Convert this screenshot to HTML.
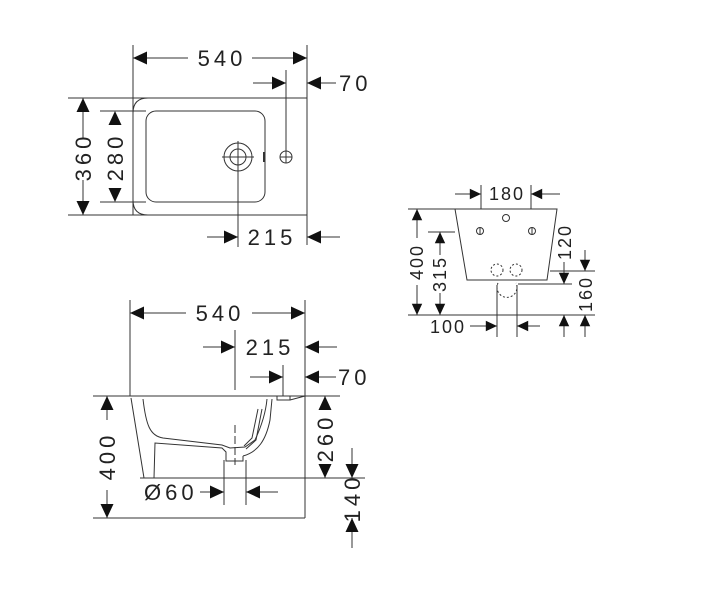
<!DOCTYPE html>
<html><head><meta charset="utf-8"><style>
html,body{margin:0;padding:0;background:#fff;}
svg{display:block;}
text{font-family:"Liberation Sans",sans-serif;fill:#222;}
</style></head><body>
<svg id="s" width="715" height="600" viewBox="0 0 715 600" xmlns="http://www.w3.org/2000/svg">
<g stroke="#333" stroke-width="1" fill="none">
<line x1="133" y1="45" x2="133" y2="215"/>
<line x1="307" y1="45" x2="307" y2="245"/>
<line x1="68" y1="98" x2="307" y2="98"/>
<line x1="68" y1="215" x2="307" y2="215"/>
<path d="M148,98 H307 V215 H148 Q133,215 133,200 V113 Q133,98 148,98Z"/>
<rect x="146" y="111" width="119" height="91" rx="10"/>
<line x1="100" y1="111" x2="146" y2="111"/>
<line x1="100" y1="202" x2="146" y2="202"/>
<circle cx="238" cy="157" r="14"/><circle cx="238" cy="157" r="8"/>
<line x1="222" y1="157" x2="254" y2="157"/><line x1="238" y1="141" x2="238" y2="247"/>
<circle cx="286" cy="157" r="6"/><line x1="280" y1="157" x2="292" y2="157"/>
<line x1="286" y1="70" x2="286" y2="163"/>
<line x1="264" y1="152" x2="264" y2="162" stroke-width="2"/>
<line x1="133" y1="58" x2="188" y2="58"/><line x1="252" y1="58" x2="307" y2="58"/>
<line x1="253" y1="83" x2="286" y2="83"/><line x1="307" y1="83" x2="336" y2="83"/>
<line x1="83" y1="98" x2="83" y2="138"/><line x1="83" y1="180" x2="83" y2="215"/>
<line x1="207" y1="237" x2="238" y2="237"/><line x1="307" y1="237" x2="340" y2="237"/>
<line x1="130" y1="300" x2="130" y2="396"/>
<line x1="305" y1="300" x2="305" y2="518"/>
<line x1="93" y1="396" x2="340" y2="396"/>
<line x1="93" y1="518" x2="305" y2="518"/>
<line x1="140" y1="478" x2="365" y2="478"/>
<line x1="130" y1="313" x2="186" y2="313"/><line x1="252" y1="313" x2="305" y2="313"/>
<line x1="203" y1="347" x2="235" y2="347"/><line x1="305" y1="347" x2="337" y2="347"/>
<line x1="235" y1="330" x2="235" y2="390"/>
<line x1="250" y1="377" x2="283" y2="377"/><line x1="305" y1="377" x2="336" y2="377"/>
<line x1="283" y1="365" x2="283" y2="396"/>
<line x1="107" y1="396" x2="107" y2="420"/><line x1="107" y1="490" x2="107" y2="518"/>
<line x1="325" y1="396" x2="325" y2="410"/><line x1="325" y1="468" x2="325" y2="478"/>
<line x1="352" y1="448" x2="352" y2="478"/><line x1="352" y1="518" x2="352" y2="548"/>
<line x1="224" y1="460" x2="224" y2="505"/><line x1="246" y1="460" x2="246" y2="505"/>
<line x1="200" y1="492" x2="224" y2="492"/><line x1="246" y1="492" x2="278" y2="492"/>
<line x1="235" y1="425" x2="235" y2="465" stroke-dasharray="8,3"/>
<path d="M130,396 L305,396"/>
<path d="M131,398 L144,478 L154,478 L155,443 L222,448 L226,452 L226,461 L243,461 L243,456"/>
<path d="M143,399 C146,425 150,436 163,438 L222,445 L230,448 L245,447 L255,440 C262,425 266,410 267,399"/>
<path d="M243,456 C258,452 266,440 270,420 L272,399"/>
<path d="M262,409 L256,440 L246,449"/><path d="M258,409 L252,438 L244,446"/>
<path d="M277,396 L277,400 L290,400 L290,396"/>
<path d="M305,396 L290,400"/>
<path d="M455,209 L557,209 L547,280 L467,280 Z"/>
<circle cx="506" cy="218" r="3.5"/>
<circle cx="480" cy="231" r="3.5"/><line x1="480" y1="227" x2="480" y2="235"/>
<circle cx="532" cy="231" r="3.5"/><line x1="532" y1="227" x2="532" y2="235"/>
<g stroke-dasharray="2,2"><circle cx="497" cy="270" r="6"/><circle cx="516" cy="270" r="6"/>
<path d="M498,283 A10,10 0 1 0 516,283"/></g>
<line x1="497" y1="285" x2="497" y2="337"/><line x1="517" y1="285" x2="517" y2="337"/>
<line x1="481" y1="185" x2="481" y2="209"/><line x1="531" y1="185" x2="531" y2="209"/>
<line x1="455" y1="194" x2="481" y2="194"/><line x1="531" y1="194" x2="560" y2="194"/>
<line x1="408" y1="209" x2="455" y2="209"/>
<line x1="428" y1="232" x2="455" y2="232"/>
<line x1="408" y1="315" x2="595" y2="315"/>
<line x1="417" y1="209" x2="417" y2="238"/><line x1="417" y1="285" x2="417" y2="315"/>
<line x1="440" y1="232" x2="440" y2="255"/><line x1="440" y1="293" x2="440" y2="315"/>
<line x1="550" y1="271" x2="595" y2="271"/>
<line x1="518" y1="284" x2="572" y2="284"/>
<line x1="564" y1="262" x2="564" y2="284"/><line x1="585" y1="250" x2="585" y2="271"/>
<line x1="564" y1="315" x2="564" y2="337"/><line x1="585" y1="315" x2="585" y2="337"/>
<line x1="470" y1="326" x2="497" y2="326"/><line x1="517" y1="326" x2="540" y2="326"/>
</g>
<g id="ar" fill="#111"></g>
<g font-size="22" letter-spacing="4">
<text x="222" y="66" text-anchor="middle">540</text>
<text x="339" y="91">70</text>
<text x="272" y="245" text-anchor="middle">215</text>
<text transform="translate(91,157) rotate(-90)" text-anchor="middle">360</text>
<text transform="translate(123,157) rotate(-90)" text-anchor="middle">280</text>
<text x="220" y="321" text-anchor="middle">540</text>
<text x="270" y="355" text-anchor="middle">215</text>
<text x="338" y="385">70</text>
<text x="144" y="500">Ø60</text>
<text transform="translate(115,456) rotate(-90)" text-anchor="middle">400</text>
<text transform="translate(333,438) rotate(-90)" text-anchor="middle">260</text>
<text transform="translate(360,498) rotate(-90)" text-anchor="middle">140</text>
</g>
<g font-size="18" letter-spacing="2">
<text x="507" y="200" text-anchor="middle">180</text>
<text x="448" y="333" text-anchor="middle">100</text>
<text transform="translate(423,262) rotate(-90)" text-anchor="middle">400</text>
<text transform="translate(446,274) rotate(-90)" text-anchor="middle">315</text>
<text transform="translate(571,242) rotate(-90)" text-anchor="middle">120</text>
<text transform="translate(592,294) rotate(-90)" text-anchor="middle">160</text>
</g>
</svg>
<script>
var g=document.getElementById('ar');
function a(x,y,d,s){s=s||1;var L=14*s,W=6.5*s,p;
if(d=='r')p=[x,y,x-L,y-W,x-L,y+W];if(d=='l')p=[x,y,x+L,y-W,x+L,y+W];
if(d=='d')p=[x,y,x-W,y-L,x+W,y-L];if(d=='u')p=[x,y,x-W,y+L,x+W,y+L];
var e=document.createElementNS('http://www.w3.org/2000/svg','polygon');e.setAttribute('points',p.join(' '));g.appendChild(e);}
a(133,58,'l');a(307,58,'r');a(286,83,'r');a(307,83,'l');
a(83,98,'u');a(83,215,'d');a(115,111,'u');a(115,202,'d');
a(238,237,'r');a(307,237,'l');
a(130,313,'l');a(305,313,'r');a(235,347,'r');a(305,347,'l');a(283,377,'r');a(305,377,'l');
a(107,396,'u');a(107,518,'d');a(325,396,'u');a(325,478,'d');a(352,478,'d');a(352,518,'u');
a(224,492,'r');a(246,492,'l');
var s=0.8;
a(481,194,'r',s);a(531,194,'l',s);a(417,209,'u',s);a(417,315,'d',s);a(440,232,'u',s);a(440,315,'d',s);
a(564,284,'d',s);a(585,271,'d',s);a(564,315,'u',s);a(585,315,'u',s);a(497,326,'r',s);a(517,326,'l',s);
</script>
</body></html>
